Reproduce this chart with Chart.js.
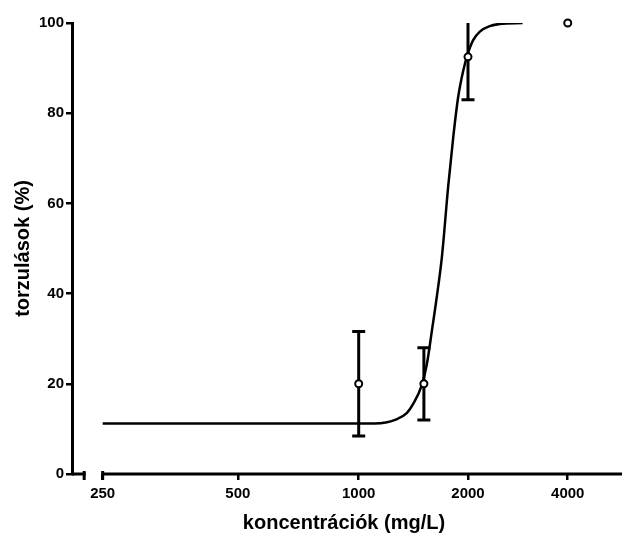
<!DOCTYPE html>
<html lang="hu">
<head>
<meta charset="UTF-8">
<title>Torzulások – koncentráció</title>
<script src="https://cdn.jsdelivr.net/npm/chart.js@4.4.1/dist/chart.umd.min.js"></script>
<style>
  body { margin: 0; background: #fff; }
  canvas { display: block; }
</style>
</head>
<body>
<canvas id="dose-chart" width="622" height="533"></canvas>
<script>
// measured means with error bar limits
const konc = [1000, 1500, 2000, 4000];
const torz = [20, 20, 92.5, 100];
const hibaAlso = [8.4, 12, 83, null];
const hibaFelso = [31.6, 28, 102, null];

// fitted dose-response curve
const gorbeKonc = [250, 1100, 1180, 1250, 1345, 1405, 1480, 1530, 1580, 1630, 1685, 1755, 1815, 1875, 1940, 2000, 2070, 2165, 2315, 2480, 2900];
const gorbeTorz = [11.2, 11.2, 11.4, 12, 13.5, 15.7, 19.7, 24.5, 31.9, 39.3, 48.2, 63.7, 74.8, 83.7, 89.6, 93.3, 96.2, 98.1, 99.3, 99.8, 100];

// axis ticks
const xTicks = [250, 500, 1000, 2000, 4000];
const yTicks = [0, 20, 40, 60, 80, 100];

const loglog = v => Math.log(Math.log(v));

// x axis spaced by log(log(c))
class LogLogScale extends Chart.Scale {
    static id = 'loglog';
    static defaults = {};

    determineDataLimits() {
        this.min = this.options.min;
        this.max = this.options.max;
    }
    buildTicks() {
        return xTicks.map(v => ({ value: v }));
    }
    configure() {
        super.configure();
        this._start = loglog(this.min);
        this._range = loglog(this.max) - this._start;
    }
    getPixelForValue(v) {
        return this.getPixelForDecimal((loglog(v) - this._start) / this._range);
    }
    getValueForPixel(p) {
        return Math.exp(Math.exp(this._start + this.getDecimalForPixel(p) * this._range));
    }
}
Chart.register(LogLogScale);

Chart.defaults.font.family = '"Liberation Sans", Arial, sans-serif';
Chart.defaults.color = '#000';

// error bars + broken x axis line
const errorBarsPlugin = {
    id: 'errorBars',
    beforeDatasetsDraw(chart) {
        const { ctx, chartArea, scales: { x, y } } = chart;
        ctx.save();
        ctx.strokeStyle = '#000';
        ctx.lineWidth = 3;
        konc.forEach((c, i) => {
            if (hibaAlso[i] == null) return;
            const px = x.getPixelForValue(c);
            const lo = y.getPixelForValue(hibaAlso[i]);
            const hiRaw = y.getPixelForValue(hibaFelso[i]);
            const hi = Math.max(hiRaw, chartArea.top);
            ctx.beginPath();
            ctx.moveTo(px, lo);
            ctx.lineTo(px, hi);
            ctx.moveTo(px - 6.5, lo);
            ctx.lineTo(px + 6.5, lo);
            if (hiRaw >= chartArea.top) {
                ctx.moveTo(px - 6.5, hi);
                ctx.lineTo(px + 6.5, hi);
            }
            ctx.stroke();
        });

        // axis runs to the canvas edge, broken just left of the first tick
        const yb = chartArea.bottom;
        const p250 = x.getPixelForValue(xTicks[0]);
        const brk = p250 - 17;
        ctx.beginPath();
        ctx.moveTo(chartArea.left, yb);
        ctx.lineTo(brk, yb);
        ctx.moveTo(p250, yb);
        ctx.lineTo(chart.width, yb);
        ctx.stroke();
        ctx.beginPath();
        ctx.moveTo(brk - 1.5, yb - 3);
        ctx.lineTo(brk - 1.5, yb + 6);
        ctx.moveTo(p250, yb - 3);
        ctx.lineTo(p250, yb + 6);
        ctx.stroke();
        ctx.restore();
    }
};

const ctx = document.getElementById('dose-chart').getContext('2d');
new Chart(ctx, {
    type: 'line',
    data: {
        datasets: [
            {
                label: 'mért',
                data: konc.map((c, i) => ({ x: c, y: torz[i] })),
                showLine: false,
                pointRadius: 3.5,
                pointBorderWidth: 2,
                pointBackgroundColor: '#fff',
                pointBorderColor: '#000',
                clip: false
            },
            {
                label: 'illesztés',
                data: gorbeKonc.map((c, i) => ({ x: c, y: gorbeTorz[i] })),
                borderColor: '#000',
                borderWidth: 2.5,
                pointRadius: 0,
                cubicInterpolationMode: 'monotone',
                fill: false
            }
        ]
    },
    options: {
        responsive: false,
        animation: false,
        layout: { padding: { top: 23, right: 2, left: 0, bottom: 0 } },
        plugins: {
            legend: { display: false },
            tooltip: { enabled: false }
        },
        scales: {
            x: {
                type: 'loglog',
                min: 216,
                max: 5720,
                border: { display: false },
                grid: { drawOnChartArea: false, drawTicks: true, tickLength: 6, color: '#000', lineWidth: 2.5 },
                ticks: {
                    autoSkip: false,
                    maxRotation: 0,
                    padding: 5,
                    font: { size: 15, weight: 'bold' },
                    callback: v => String(v)
                },
                title: {
                    display: true,
                    text: 'koncentrációk (mg/L)',
                    font: { size: 20, weight: 'bold' },
                    padding: { top: 4, bottom: -2 }
                },
                afterFit: s => {
                    s.height = 59;
                    s.paddingLeft = 0;
                    s.paddingRight = 0;
                }
            },
            y: {
                min: 0,
                max: 100,
                afterBuildTicks: s => { s.ticks = yTicks.map(v => ({ value: v })); },
                border: { display: true, color: '#000', width: 3 },
                grid: { drawOnChartArea: false, tickLength: 6, color: '#000', lineWidth: 2.5 },
                ticks: {
                    padding: 2,
                    font: { size: 15, weight: 'bold' }
                },
                title: {
                    display: true,
                    text: 'torzulások (%)',
                    font: { size: 20, weight: 'bold' },
                    padding: { top: 11, bottom: 0 }
                },
                afterFit: s => { s.width = 72; }
            }
        }
    },
    plugins: [errorBarsPlugin]
});
</script>
</body>
</html>
